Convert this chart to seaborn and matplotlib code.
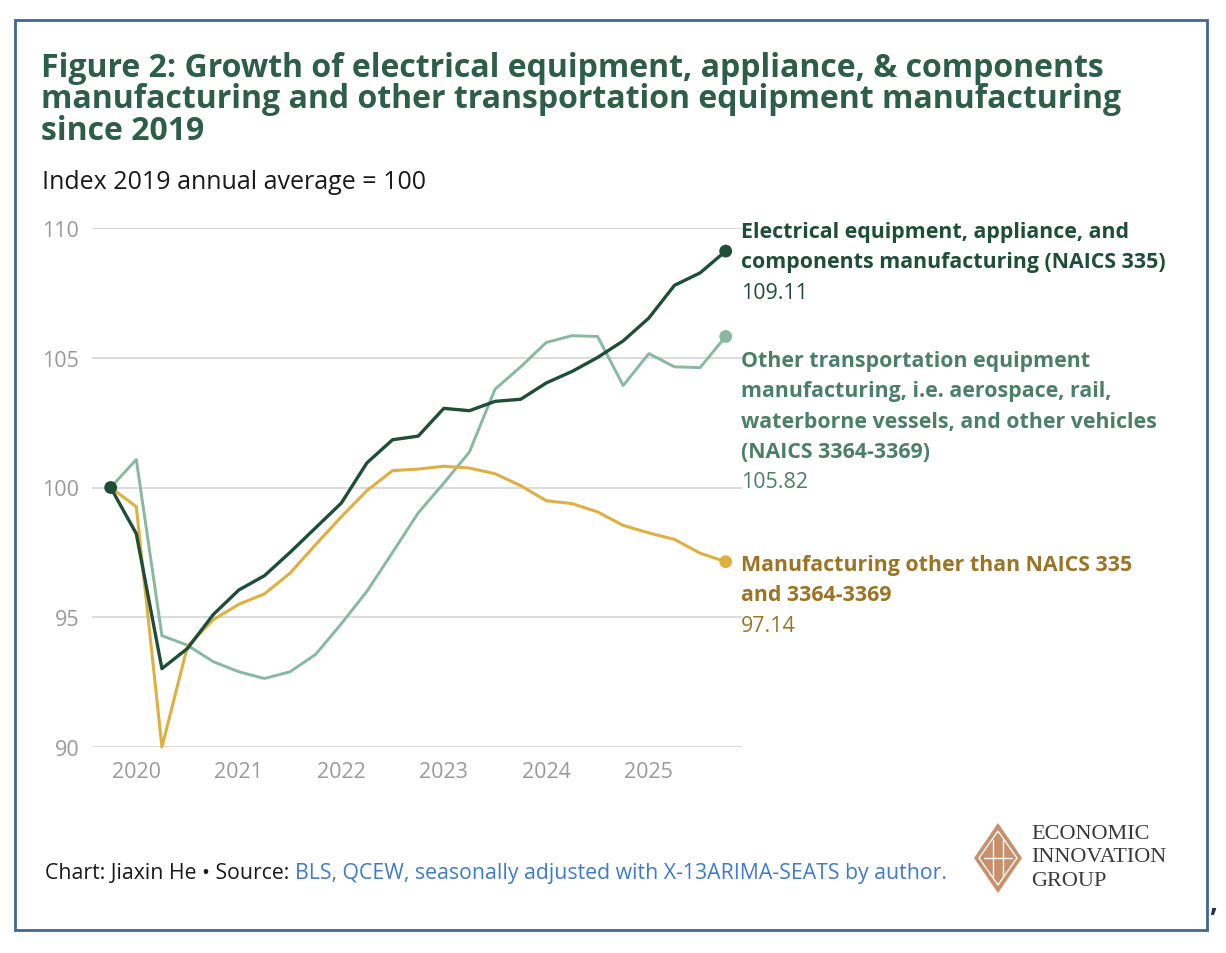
import pandas as pd
import numpy as np
import matplotlib.pyplot as plt
import seaborn as sns
from matplotlib.patches import Rectangle, Polygon

# quarterly index, 2019 annual average = 100
quarters = [str(p) for p in pd.period_range('2019Q4', '2025Q4', freq='Q')]

electrical = [100.0, 98.22, 93.02, 93.8, 95.1, 96.05, 96.6, 97.5, 98.45, 99.4,
              100.95, 101.84, 101.98, 103.05, 102.96, 103.32, 103.40, 104.03,
              104.47, 105.01, 105.65, 106.53, 107.79, 108.27, 109.11]
other_transport = [100.0, 101.08, 94.29, 93.92, 93.29, 92.9, 92.64, 92.9, 93.57,
                   94.75, 96.0, 97.5, 99.02, 100.17, 101.37, 103.79, 104.65,
                   105.59, 105.85, 105.82, 103.93, 105.16, 104.65, 104.62, 105.82]
manuf_other = [100.0, 99.26, 90.0, 93.89, 94.9, 95.5, 95.9, 96.7, 97.8, 98.87,
               99.88, 100.65, 100.71, 100.82, 100.75, 100.53, 100.07, 99.49,
               99.38, 99.06, 98.54, 98.25, 98.0, 97.47, 97.14]

series_names = ['Other transportation', 'Manufacturing other', 'Electrical']
label_lines = {
    'Electrical': ['Electrical equipment, appliance, and',
                   'components manufacturing (NAICS 335)'],
    'Other transportation': ['Other transportation equipment',
                             'manufacturing, i.e. aerospace, rail,',
                             'waterborne vessels, and other vehicles',
                             '(NAICS 3364-3369)'],
    'Manufacturing other': ['Manufacturing other than NAICS 335',
                            'and 3364-3369'],
}
year_ticks = [2020, 2021, 2022, 2023, 2024, 2025]
y_ticks = [90, 95, 100, 105, 110]

line_colors = {'Electrical': '#1f4e38', 'Other transportation': '#87b9a1',
               'Manufacturing other': '#dfb03f'}
text_colors = {'Electrical': '#1f4e38', 'Other transportation': '#4b8068',
               'Manufacturing other': '#9b7425'}
line_widths = {'Electrical': 2.4, 'Other transportation': 2.1,
               'Manufacturing other': 2.2}

per = pd.PeriodIndex(quarters, freq='Q')
t = per.year + (per.quarter - 1) / 4
df = pd.DataFrame({'t': t, 'Electrical': electrical,
                   'Other transportation': other_transport,
                   'Manufacturing other': manuf_other})
long = df.melt(id_vars='t', var_name='series', value_name='value')

sns.set_style('white')
plt.rcParams['font.family'] = ['Open Sans', 'DejaVu Sans']

W, H = 1226, 954
fig = plt.figure(figsize=(W / 100, H / 100), dpi=100)

def fx(x):
    return x / W

def fy(y):
    return 1 - y / H

# plot area
left, right, top, bottom = 91.7, 741.7, 229, 748
ax = fig.add_axes([fx(left), fy(bottom), (right - left) / W, (bottom - top) / H])

for s in series_names:
    d = long[long['series'] == s]
    sns.lineplot(data=d, x='t', y='value', color=line_colors[s],
                 linewidth=line_widths[s], ax=ax, legend=False, zorder=3)
    last = d.iloc[[-1]]
    sns.scatterplot(data=last, x='t', y='value', color=line_colors[s], s=85,
                    edgecolor='none', ax=ax, legend=False, zorder=4, clip_on=False)

first = long[(long['series'] == 'Electrical')].iloc[[0]]
sns.scatterplot(data=first, x='t', y='value', color=line_colors['Electrical'],
                s=85, edgecolor='none', ax=ax, legend=False, zorder=5, clip_on=False)

for ln in ax.lines:
    ln.set_clip_on(False)

ax.set_xlim(2019.565, 2025.906)
ax.set_ylim(90, 110)
ax.set_yticks(y_ticks)
ax.set_xticks(year_ticks)
ax.set_xticklabels([str(y) for y in year_ticks])
ax.grid(axis='y', color='#d4d4d4', linewidth=1.2, zorder=0)
ax.grid(axis='x', visible=False)
for sp in ax.spines.values():
    sp.set_visible(False)
ax.tick_params(axis='both', length=0, labelsize=15.5, labelcolor='#9a9a9a')
ax.tick_params(axis='y', pad=9)
ax.tick_params(axis='x', pad=10)
ax.set_xlabel('')
ax.set_ylabel('')

# titles
title_lines = ['Figure 2: Growth of electrical equipment, appliance, & components',
               'manufacturing and other transportation equipment manufacturing',
               'since 2019']
for i, line in enumerate(title_lines):
    fig.text(fx(41), fy(77 + 31.5 * i), line, fontsize=23, fontweight='bold',
             color='#2d5e47', va='baseline', ha='left')
fig.text(fx(42), fy(189), 'Index 2019 annual average = 100', fontsize=18,
         color='#1a1a1a', va='baseline', ha='left')

# direct labels
label_base = {'Electrical': 238, 'Other transportation': 367,
              'Manufacturing other': 571}
values = {'Electrical': electrical[-1], 'Other transportation': other_transport[-1],
          'Manufacturing other': manuf_other[-1]}
for s, y0 in label_base.items():
    lines = label_lines[s]
    for i, line in enumerate(lines):
        fig.text(fx(741), fy(y0 + 30.3 * i), line, fontsize=15.4, fontweight='bold',
                 color=text_colors[s], va='baseline', ha='left')
    fig.text(fx(741), fy(y0 + 30.3 * len(lines)), f'{values[s]:.2f}', fontsize=15.4,
             color=text_colors[s], va='baseline', ha='left')

# footer
t1 = fig.text(fx(45), fy(879), 'Chart: Jiaxin He \u2022 Source: ', fontsize=15.3,
              color='#1a1a1a', va='baseline', ha='left')
fig.canvas.draw()
bb = t1.get_window_extent()
fig.text(bb.x1 / W, fy(879), 'BLS, QCEW, seasonally adjusted with X-13ARIMA-SEATS by author.',
         fontsize=15.3, color='#3d7ad0', va='baseline', ha='left')

# logo
cx, cy, hw, hh = 998, 859, 24, 35
copper = '#c98f6a'
fig.patches.append(Polygon([(fx(cx), fy(cy - hh)), (fx(cx + hw), fy(cy)),
                            (fx(cx), fy(cy + hh)), (fx(cx - hw), fy(cy))],
                           closed=True, facecolor=copper, edgecolor='none',
                           transform=fig.transFigure))
fig.patches.append(Polygon([(fx(cx), fy(cy - hh + 8)), (fx(cx + hw - 5), fy(cy)),
                            (fx(cx), fy(cy + hh - 8)), (fx(cx - hw + 5), fy(cy))],
                           closed=True, facecolor='none', edgecolor='white',
                           linewidth=1.0, transform=fig.transFigure))
for dx in (-5, 5):
    fig.lines.append(plt.Line2D([fx(cx + dx), fx(cx + dx)], [fy(cy - 18), fy(cy + 18)],
                                color='white', linewidth=1.0, transform=fig.transFigure))
fig.lines.append(plt.Line2D([fx(cx - 14), fx(cx + 14)], [fy(cy), fy(cy)],
                            color='white', linewidth=1.0, transform=fig.transFigure))
for i, word in enumerate(['ECONOMIC', 'INNOVATION', 'GROUP']):
    fig.text(fx(1031), fy(839 + 23.5 * i), word, fontsize=16, color='#3a3a3a',
             family='Liberation Serif', va='baseline', ha='left')

# frame
fig.patches.append(Rectangle((fx(15), fy(931)), (1207 - 15) / W, (931 - 21) / H,
                             fill=False, edgecolor='#41688f', linewidth=2.0,
                             transform=fig.transFigure))
fig.text(fx(1209), fy(911), ',', fontsize=20, fontweight='bold', color='#1f3550',
         va='baseline', ha='left')

fig.savefig('out.png', dpi=100)
